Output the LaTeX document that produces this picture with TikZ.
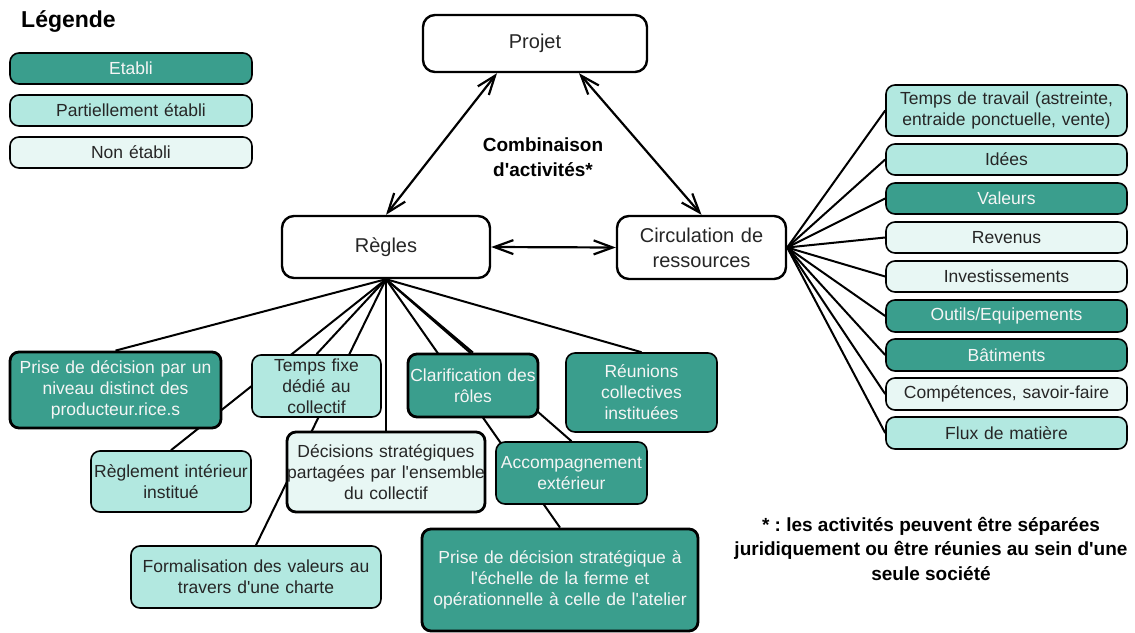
\documentclass[tikz,border=0pt]{standalone}
\usepackage{fontspec}
\setmainfont{Liberation Sans}[Ligatures=TeXOff]
\usetikzlibrary{arrows.meta,calc,backgrounds}
\definecolor{dark}{RGB}{58,158,141}
\definecolor{light}{RGB}{178,232,224}
\definecolor{vlight}{RGB}{232,247,244}
\definecolor{txt}{RGB}{38,38,38}
\frenchspacing
\begin{document}
\begin{tikzpicture}[x=1pt,y=-1pt,
  box/.style={draw=black, rounded corners=9pt, inner sep=0pt, align=center, line width=1.6pt,
    font=\fontsize{17.5}{21}\selectfont},
  sz/.style 2 args={text width=#1pt, minimum height=#2pt},
  et/.style={box, fill=dark, text=white!96!black},
  pe/.style={box, fill=light, text=txt},
  ne/.style={box, fill=vlight, text=txt},
  thk/.style={line width=2.8pt},
  main/.style={box, fill=white, text=txt, line width=2.4pt, rounded corners=12pt,
    font=\fontsize{20}{25}\selectfont},
  conn/.style={line width=2pt, draw=black},
  arr/.style={line width=2.2pt, {Straight Barb[length=19pt,width=14pt]}-{Straight Barb[length=19pt,width=14pt]}},
  bold/.style={font=\bfseries\fontsize{19}{24.5}\selectfont, align=center, text=black}
]
\useasboundingbox (0,0) rectangle (1135,632);

% legend
\node[font=\bfseries\fontsize{23}{27}\selectfont, anchor=west, inner sep=0pt] (leg) at (21,22) {Légende};
\node[et, sz={242}{31}] (l1) at (131,68.5) {Etabli};
\node[pe, sz={242}{31}] (l2) at (131,110.5) {Partiellement établi};
\node[ne, sz={242}{31}] (l3) at (131,152.5) {Non établi};

% main nodes
\node[main, sz={224}{57}] (projet) at (535,43.5) {Projet};
\node[main, sz={208}{62}] (regles) at (386,247) {Règles};
\node[main, sz={169}{63}] (circ) at (701.5,247.5) {Circulation de\\ressources};

\node[bold] (comb) at (543,157) {Combinaison\\d'activités*};

% children of Regles
\node[et, thk, sz={211}{76}] (c1) at (115.5,390) {Prise de décision par un\\niveau distinct des\\producteur.rice.s};
\node[pe, sz={129}{62}] (c2) at (316.5,386) {Temps fixe\\dédié au\\collectif};
\node[pe, sz={160}{61}] (c3) at (171,481.5) {Règlement intérieur\\institué};
\node[ne, thk, sz={198}{80}] (c4) at (386,472) {Décisions stratégiques\\partagées par l'ensemble\\du collectif};
\node[pe, sz={250}{62}] (c5) at (256,577) {Formalisation des valeurs au\\travers d'une charte};
\node[et, thk, sz={130}{63}] (c6) at (473,385.5) {Clarification des\\rôles};
\node[et, sz={151}{79}] (c7) at (641.5,392.5) {Réunions\\collectives\\instituées};
\node[et, sz={151}{62}] (c8) at (571.5,473) {Accompagnement\\extérieur};
\node[et, thk, sz={276}{102}] (c9) at (560,580) {Prise de décision stratégique à\\l'échelle de la ferme et\\opérationnelle à celle de l'atelier};

% children of Circulation
\node[pe, sz={241}{51}] (r1) at (1006.5,110.5) {Temps de travail (astreinte,\\entraide ponctuelle, vente)};
\node[pe, sz={241}{31}] (r2) at (1006.5,159.5) {Idées};
\node[et, sz={241}{31}] (r3) at (1006.5,198.5) {Valeurs};
\node[ne, sz={241}{31}] (r4) at (1006.5,237.5) {Revenus};
\node[ne, sz={241}{31}] (r5) at (1006.5,276.5) {Investissements};
\node[et, sz={241}{32}] (r6) at (1006.5,316) {Outils/Equipements};
\node[et, sz={241}{32}] (r7) at (1006.5,355) {Bâtiments};
\node[ne, sz={241}{32}] (r8) at (1006.5,394) {Compétences, savoir-faire};
\node[pe, sz={241}{32}] (r9) at (1006.5,433) {Flux de matière};

% footnote
\node[bold] (note) at (931,548.5) {* : les activités peuvent être séparées\\juridiquement ou être réunies au sein d'une\\seule société};

% arrows
\draw[arr] (regles.north) -- ($(projet.south)+(-38,0)$);
\draw[arr] (circ.north) -- ($(projet.south)+(44,0)$);
\draw[arr] (regles.east) -- (circ.west);

\begin{scope}[on background layer]
  \fill[white] (0,0) rectangle (1135,632);
  \foreach \c in {c1,c2,c3,c4,c5,c6,c7,c8,c9}
    \draw[conn] (regles.south) -- (\c.north);
  \foreach \r in {r1,r2,r3,r4,r5,r6,r7,r8,r9}
    \draw[conn] (circ.east) -- (\r.west);
\end{scope}
\end{tikzpicture}
\end{document}
